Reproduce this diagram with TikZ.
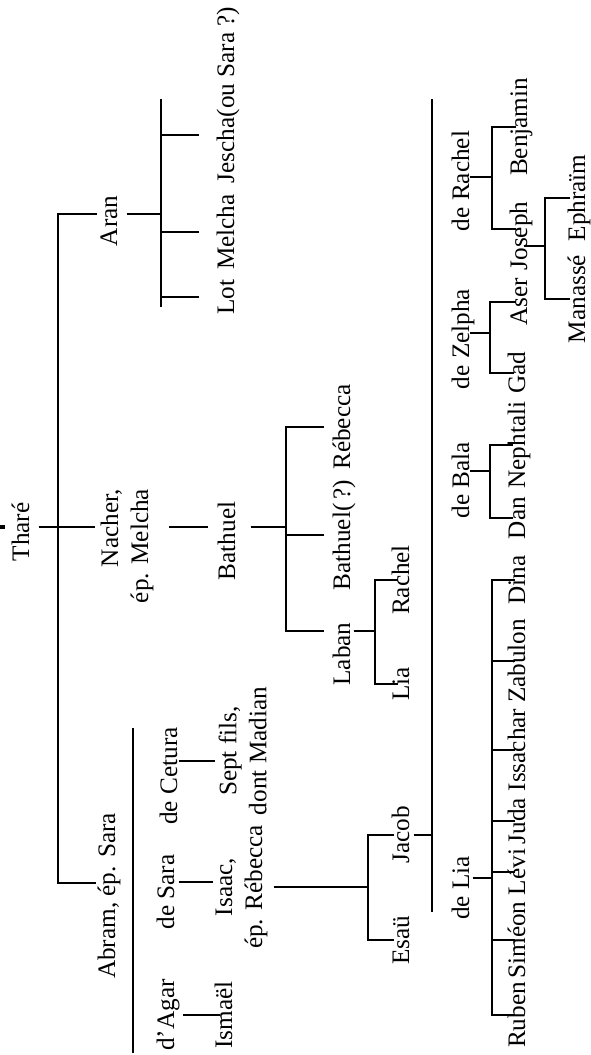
\documentclass[tikz,border=0pt]{standalone}
\usepackage{fontspec}
\setmainfont{Liberation Serif}
\tikzset{
  nm/.style={rotate=90, inner sep=0pt, text height=0.7em, text depth=0pt, anchor=base},
  two/.style={rotate=90, inner sep=0pt, align=center, anchor=north},
}
\begin{document}
\begin{tikzpicture}[x=0.5pt, y=-0.5pt, line width=0.6pt, font=\fontsize{12.6}{15}\selectfont]
\useasboundingbox (0,0) rectangle (590,1055);
\node[nm] (thare) at (29,532) {Tharé};
\node[nm] (aran) at (117,221) {Aran};
\node[two, align=right] (nacher) at (100,546) {Nacher,\\ép. Melcha};
\node[nm] (abram) at (115,896) {Abram, ép. Sara};
\node[nm] (lot) at (234,297) {Lot};
\node[nm] (melcha) at (234,232) {Melcha};
\node[nm] (jescha) at (234,95) {Jescha(ou Sara ?)};
\node[nm] (bathuel) at (235,541) {Bathuel};
\node[nm] (rebecca) at (350,427) {Rébecca};
\node[nm] (bathuelq) at (350,535) {Bathuel(\,?)};
\node[nm] (laban) at (350,654) {Laban};
\node[nm] (rachel) at (409,580) {Rachel};
\node[nm] (lia) at (409,684) {Lia};
\node[nm] (decetura) at (177,776) {de Cetura};
\node[two] (septfils) at (218,751) {Sept fils,\\dont Madian};
\node[nm] (desara) at (174,892) {de Sara};
\node[two] (isaac) at (215,887) {Isaac,\\ép. Rébecca};
\node[nm] (dagar) at (174,1015) {d'Agar};
\node[nm] (ismael) at (232,1015) {Ismaël};
\node[nm] (jacob) at (409,835) {Jacob};
\node[nm] (esau) at (409,940) {Esaü};
\node[nm] (delia) at (469,888) {de Lia};
\node[nm] (debala) at (469,480) {de Bala};
\node[nm] (dezelpha) at (469,339) {de Zelpha};
\node[nm] (derachel) at (469,181) {de Rachel};
\node[nm] (ruben) at (525,1015) {Ruben};
\node[nm] (simeon) at (525,940) {Siméon};
\node[nm] (levi) at (525,872) {Lévi};
\node[nm] (juda) at (525,821) {Juda};
\node[nm] (issachar) at (525,750) {Issachar};
\node[nm] (zabulon) at (525,661) {Zabulon};
\node[nm] (dina) at (525,580) {Dina};
\node[nm] (dan) at (525,518) {Dan};
\node[nm] (nephtali) at (525,445) {Nephtali};
\node[nm] (gad) at (525,373) {Gad};
\node[nm] (aser) at (527,302) {Aser};
\node[nm] (joseph) at (527,236) {Joseph};
\node[nm] (benjamin) at (527,127) {Benjamin};
\node[nm] (manasse) at (585,299) {Manassé};
\node[nm] (ephraim) at (585,198) {Ephraïm};

\draw[line width=2pt] (0,527) -- (5,527);
% Tharé
\coordinate (jT) at (58,527);
\coordinate (jAran) at (58,214);
\coordinate (jAbram) at (58,883);
\draw[shorten <=4.5pt, shorten >=2.5pt] (thare.south |- jT) -- (nacher.north |- jT);
\draw[shorten <=2.7pt, shorten >=2.2pt] (aran.north |- jAran) -- (jAran) -- (jAbram) -- (abram.north |- jAbram);
% Aran
\coordinate (jA) at (161,214);
\coordinate (jAtop) at (161,99);
\coordinate (jAbot) at (161,307);
\coordinate (jJes) at (161,135);
\draw[shorten <=4.5pt] (aran.south |- jA) -- (jA);
\draw (jAtop) -- (jAbot);
\draw[shorten <=10pt] (lot.north) -- (lot.north -| jA);
\draw[shorten <=10pt] (melcha.north) -- (melcha.north -| jA);
\draw[shorten >=10pt] (jJes) -- (jJes -| jescha.north);
% Nacher, Bathuel
\draw[shorten <=7.5pt, shorten >=6pt] (nacher.south |- jT) -- (bathuel.north |- jT);
\coordinate (jB) at (286,527);
\draw[shorten <=7.5pt] (bathuel.south |- jB) -- (jB);
\draw[shorten <=5.7pt] (rebecca.north) -| (jB);
\draw[shorten <=5.7pt] (bathuelq.north) -| (jB);
\coordinate (jLab) at (375,631);
\draw[shorten >=5.7pt] (jB) |- (laban.north |- jLab);
\draw[shorten <=1.5pt] (laban.south |- jLab) -- (jLab);
\draw[shorten <=-1.8pt] (rachel.north) -| (jLab);
\draw[shorten <=-1.8pt] (lia.north) -| (jLab);
% Abram
\coordinate (abTop) at (133,728);
\coordinate (abBot) at (133,1053);
\draw (abTop) -- (abBot);
\coordinate (jCet) at (196,761);
\draw[shorten <=0.5pt, shorten >=1.5pt] (decetura.south |- jCet) -- (septfils.north |- jCet);
\coordinate (jSara) at (196,882);
\draw[shorten <=2pt, shorten >=1pt] (desara.south |- jSara) -- (isaac.north |- jSara);
\draw[shorten <=4pt, shorten >=-1.2pt] (dagar.south) -- (ismael.north);
% Isaac, Jacob
\coordinate (jI) at (368,887);
\draw[shorten <=3pt] (isaac.south |- jI) -- (jI);
\draw (jacob.north) -| (jI);
\draw (esau.north) -| (jI);
\coordinate (jvTop) at (432,99);
\coordinate (jvBot) at (432,912);
\draw (jvTop) -- (jvBot);
\draw[shorten <=2pt] (jacob.south) -- (jacob.south -| jvTop);
% sons of Jacob
\coordinate (jL) at (492,878);
\draw[shorten <=1.5pt] (delia.south |- jL) -- (jL);
\foreach \s in {ruben,simeon,levi,juda,issachar,zabulon,dina}
  \draw[shorten <=-2.3pt] (\s.north) -| (jL);
\coordinate (jBa) at (490,471);
\draw (debala.south |- jBa) -- (jBa);
\foreach \s in {dan,nephtali}
  \draw[shorten <=-1.3pt] (\s.north) -| (jBa);
\coordinate (jZ) at (490,333);
\draw (dezelpha.south |- jZ) -- (jZ);
\foreach \s in {gad,aser}
  \draw[shorten <=-2pt] (\s.north) -| (jZ);
\coordinate (jR) at (492,177);
\coordinate (jRj) at (492,229);
\draw (derachel.south |- jR) -- (jR);
\draw[shorten <=-2pt] (benjamin.north) -| (jR);
\draw[shorten >=-2pt] (jR) |- (joseph.north |- jRj);
\coordinate (jJ) at (545,246);
\draw[shorten <=-2pt] (joseph.south |- jJ) -- (jJ);
\foreach \s in {manasse,ephraim}
  \draw (\s.north) -| (jJ);
\end{tikzpicture}
\end{document}
